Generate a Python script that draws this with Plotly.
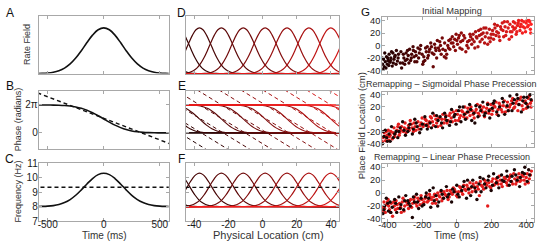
import plotly.graph_objects as go

# ---------------- data ----------------
t_ms = [-3000, -600, -550, -500, -450, -400, -350, -300, -250, -200, -150, -100, -50,
        0, 50, 100, 150, 200, 250, 300, 350, 400, 450, 500, 550, 600, 3000]
rate_field = [0, 0.002, 0.005, 0.013, 0.030, 0.063, 0.120, 0.211, 0.339, 0.500, 0.678, 0.841, 0.958,
              1.0, 0.958, 0.841, 0.678, 0.500, 0.339, 0.211, 0.120, 0.063, 0.030, 0.013, 0.005, 0.002, 0]
phase_rad = [6.283, 6.282, 6.279, 6.273, 6.258, 6.224, 6.159, 6.037, 5.838, 5.536, 5.096, 4.537, 3.864,
             3.142, 2.419, 1.746, 1.187, 0.747, 0.445, 0.246, 0.124, 0.059, 0.025, 0.010, 0.004, 0.001, 0.0]
freq_hz = [8.0, 8.005, 8.012, 8.03, 8.069, 8.145, 8.276, 8.485, 8.78, 9.15, 9.559, 9.934, 10.203,
           10.3, 10.203, 9.934, 9.559, 9.15, 8.78, 8.485, 8.276, 8.145, 8.069, 8.03, 8.012, 8.005, 8.0]
linear_t_ms = [-1000, 1000]
linear_phase_rad = [12.98, -6.42]
mean_freq_t_ms = [-3000, 3000]
mean_freq_hz = [9.33, 9.33]
speed_cm_per_ms = 0.041
cell_peaks_cm = [-75.3, -62.5, -49.7, -36.9, -24.1, -11.3, 1.5, 14.3, 27.1, 39.9, 52.7, 65.5, 78.3]

phase_ticks = [0, 6.2832]
phase_tick_text = ["0", "2π"]
freq_ticks = [7, 8, 9, 10, 11]
time_ticks = [-500, 0, 500]
loc_ticks = [-40, -20, 0, 20, 40]
g_time_ticks = [-400, -200, 0, 200, 400]
g_loc_ticks = [-40, -20, 0, 20, 40]

g1_points = [
    (-428, -30), (-422, -22), (-418, -34), (-412, -26), (-405, -18), (-400, -30), (-396, -24), (-390, -14),
    (-385, -27), (-380, -20), (-372, -33), (-368, -12), (-362, -22), (-355, -16), (-348, -8), (-342, -25), (-336, -14),
    (-318, -36), (-312, -28), (-305, -20), (-300, -30), (-292, -12), (-286, -22), (-280, -16), (-272, -6),
    (-266, -24), (-260, -14), (-252, -2), (-246, -18), (-238, -10), (-230, -26), (-224, -4), (-216, -12), (-208, 0),
    (-196, -30), (-190, -18), (-184, -24), (-176, -10), (-170, -2), (-164, -16), (-156, -6), (-150, 4),
    (-142, -12), (-136, -34), (-128, 2), (-120, -8), (-112, 8), (-106, -4), (-98, 6), (-90, -14), (-84, 12),
    (-72, -18), (-66, -8), (-58, -14), (-52, 0), (-46, 8), (-40, -6), (-32, 4), (-26, 14), (-18, -2),
    (-12, 10), (-4, 18), (4, 2), (10, 12), (18, -4), (26, 20), (34, 8), (40, 16),
    (52, -10), (58, 0), (66, -4), (72, 8), (80, 14), (86, 2), (94, 18), (100, 6), (108, 22), (116, 12),
    (122, -2), (130, 16), (138, 26), (146, 10), (152, 20), (160, 4), (168, 28),
    (178, 2), (184, 12), (192, 6), (198, 18), (206, 24), (212, 10), (220, 28), (226, 16), (234, 32),
    (240, 20), (248, 8), (256, 26), (262, 36), (270, 14), (278, 30), (286, 22), (292, 38),
    (302, 10), (308, 22), (316, 14), (322, 30), (330, 26), (336, 36), (342, 18), (350, 32), (356, 40),
    (364, 24), (370, 34), (378, 20), (386, 38), (392, 28), (400, 36), (408, 30), (416, 40), (424, 26), (428, 34),
    (-430, -20), (-426, -38), (-415, -12), (-408, -36), (-398, -20), (-392, -32), (-382, -24), (-376, -10),
    (-366, -28), (-358, -18), (-350, -30), (-338, -20), (-326, -28), (-322, -10), (-308, -14), (-296, -24),
    (-284, -8), (-276, -28), (-262, -20), (-250, -8), (-242, -26), (-234, -16), (-220, -20), (-212, -6),
    (-200, -14), (-192, -26), (-180, -4), (-168, -20), (-160, -10), (-146, -2), (-132, -14), (-124, -4),
    (-116, -20), (-100, -8), (-94, 0), (-80, -6), (-70, 4), (-62, -20), (-48, -4), (-36, 10), (-22, 4),
    (-8, -8), (0, 8), (14, 16), (22, 6), (30, -6), (46, 12), (62, 6), (76, 18), (90, 10), (104, -4),
    (112, 14), (126, 24), (134, 6), (142, 18), (156, 28), (164, 14), (174, 20), (188, 26), (196, 12),
    (210, 18), (218, 34), (230, 22), (244, 14), (252, 30), (266, 24), (274, 38), (282, 16), (296, 28),
    (306, 34), (318, 22), (326, 38), (338, 28), (346, 22), (354, 36), (366, 30), (374, 40), (382, 30),
    (396, 22), (404, 40), (412, 32), (420, 38), (426, 20),
]
g2_red_points = [
    (-425, -30), (-418, -22), (-410, -35), (-402, -26), (-395, -18), (-388, -28), (-380, -20), (-372, -32),
    (-362, -14), (-355, -24), (-345, -18), (-336, -8), (-328, -22), (-318, -12), (-308, -20), (-298, -6),
    (-288, -16), (-278, -10), (-268, -2), (-258, -14), (-246, -6), (-236, -18), (-224, -4), (-212, -10),
    (-200, 2), (-188, -8), (-176, -2), (-164, -12), (-152, 4), (-140, -4), (-128, 6), (-116, -6), (-104, 2),
    (-92, -10), (-80, 8), (-68, 0), (-56, -6), (-44, 6), (-32, 2), (-20, 12), (-8, -2), (4, 8), (16, 2),
    (28, 14), (40, 4), (52, 10), (64, 18), (76, 6), (88, 14), (100, 2), (112, 16), (124, 10), (136, 22),
    (148, 12), (160, 4), (172, 18), (184, 10), (196, 24), (208, 14), (220, 20), (232, 8), (244, 26),
    (256, 16), (268, 22), (280, 12), (292, 28), (304, 20), (316, 30), (328, 18), (340, 26), (352, 14),
    (364, 32), (376, 22), (388, 28), (400, 18), (412, 34), (424, 26), (430, 30),
    (-430, -36), (-414, -28), (-406, -20), (-392, -34), (-384, -26), (-368, -22), (-358, -28), (-340, -12),
    (-332, -26), (-322, -18), (-302, -14), (-292, -22), (-274, -18), (-262, -8), (-250, -20), (-240, -12),
    (-218, -16), (-206, -6), (-194, -12), (-182, 0), (-170, -8), (-158, -4), (-146, 2), (-134, -10),
    (-120, 0), (-110, -12), (-86, 0), (-74, -6), (-62, 6), (-50, -2), (-38, 10), (-26, -4), (-14, 6),
    (-2, 14), (10, -2), (22, 6), (34, 12), (46, 20), (58, 2), (70, 12), (82, 20), (94, 8), (106, 12),
    (118, 24), (130, 6), (142, 16), (154, 20), (166, 12), (178, 26), (190, 16), (202, 8), (214, 22),
    (226, 28), (238, 16), (250, 22), (262, 12), (274, 30), (286, 20), (298, 14), (310, 24), (322, 34),
    (334, 20), (346, 30), (358, 24), (370, 36), (382, 16), (394, 30), (406, 24), (418, 38), (428, 20),
]
g2_black_points = [
    (-428, -40), (-420, -28), (-412, -18), (-400, -36), (-390, -24), (-376, -12), (-366, -30), (-350, -20),
    (-340, -30), (-326, -14), (-312, -4), (-296, -26), (-282, -20), (-270, -8), (-256, -24), (-242, 0),
    (-228, -12), (-214, -22), (-198, -8), (-184, 4), (-170, -16), (-154, -6), (-138, 10), (-122, -12),
    (-108, -2), (-96, 4), (-82, -14), (-70, 10), (-58, -2), (-42, -10), (-30, 16), (-16, 4), (-4, -8),
    (10, 14), (24, -4), (36, 20), (50, 0), (62, 12), (74, 24), (86, -2), (98, 10), (110, 22), (122, 4),
    (138, 14), (150, 28), (164, 10), (178, 24), (190, 2), (204, 18), (216, 30), (230, 12), (246, 20),
    (262, 34), (276, 8), (290, 22), (306, 38), (318, 14), (332, 32), (346, 40), (358, 24), (372, 12),
    (386, 36), (398, 26), (410, 20), (422, 40),
    (-424, -20), (-404, -30), (-384, -36), (-358, -24), (-334, -20), (-304, -18), (-276, -14), (-250, -16),
    (-234, -6), (-206, -16), (-176, -10), (-146, -14), (-116, 6), (-88, -6), (-64, 4), (-36, -4), (-10, 8),
    (16, 20), (44, 8), (80, 16), (104, -6), (132, 20), (158, 6), (186, 14), (210, 26), (240, 6), (268, 28),
    (296, 14), (324, 26), (352, 34), (380, 30), (404, 36), (428, 32),
]
g3_red_points = [
    (-428, -22), (-420, -14), (-412, -30), (-404, -18), (-396, -10), (-388, -26), (-378, -16), (-370, -36),
    (-360, -20), (-350, -12), (-340, -24), (-330, -16), (-320, -30), (-310, -8), (-300, -20), (-290, -14),
    (-278, -24), (-266, -10), (-254, -16), (-242, -6), (-230, -20), (-218, -12), (-206, -4), (-194, -16),
    (-182, -8), (-170, -14), (-158, -2), (-146, -10), (-134, -6), (-122, -16), (-110, 0), (-98, -6),
    (-86, -12), (-74, 2), (-62, -4), (-50, -10), (-38, 4), (-26, -2), (-14, 6), (-2, -4), (10, 2), (22, 8),
    (34, -2), (46, 6), (58, 12), (70, 0), (82, 8), (94, 14), (106, 4), (118, 10), (130, -4), (142, 12),
    (154, 6), (166, 16), (178, -20), (190, 10), (202, 18), (214, 12), (226, 22), (238, 14), (250, 20),
    (262, 10), (274, 24), (286, 16), (298, 20), (310, 28), (322, 14), (334, 22), (346, 18), (358, 30),
    (370, 20), (382, 26), (394, 14), (406, 30), (418, 22), (430, 34),
    (-430, -28), (-416, -24), (-400, -14), (-392, -20), (-382, -30), (-364, -14), (-354, -26), (-344, -18),
    (-324, -22), (-314, -14), (-304, -28), (-284, -18), (-272, -12), (-260, -22), (-248, -10), (-236, -16),
    (-224, -8), (-212, -18), (-200, -10), (-188, -14), (-176, -4), (-164, -12), (-152, -6), (-140, -16),
    (-128, -2), (-116, -10), (-104, -4), (-92, 2), (-80, -8), (-68, -2), (-56, 4), (-44, -6), (-32, 0),
    (-20, 8), (-8, 2), (4, -6), (16, 10), (28, 2), (40, 12), (52, 4), (64, 8), (76, 16), (88, 2),
    (100, 10), (112, 16), (124, 6), (136, 18), (148, 10), (160, 20), (172, 12), (184, 16), (196, 8),
    (208, 22), (220, 14), (232, 18), (244, 26), (256, 14), (268, 18), (280, 22), (292, 12), (304, 24),
    (316, 18), (328, 30), (340, 14), (352, 24), (364, 18), (376, 28), (388, 20), (400, 24), (412, 16), (424, 28),
]
g3_black_points = [
    (-426, -32), (-416, -20), (-406, -8), (-394, -28), (-384, -14), (-372, -22), (-358, -10), (-346, -30),
    (-334, -6), (-322, -18), (-306, -26), (-294, -4), (-282, -12), (-268, -20), (-256, -38), (-244, -14),
    (-232, -2), (-220, -24), (-206, -8), (-190, -18), (-176, 0), (-162, -8), (-150, -22), (-136, 8),
    (-120, -4), (-104, -14), (-90, 4), (-76, -8), (-60, 10), (-46, -2), (-30, -14), (-16, 2), (0, 12),
    (14, -6), (28, 4), (42, 18), (56, -8), (68, 6), (80, -4), (92, 20), (104, 8), (116, -10), (128, 14),
    (140, 2), (152, 22), (168, 8), (184, 26), (198, 4), (212, 30), (228, 16), (242, 8), (258, 28),
    (272, 18), (288, 34), (302, 12), (318, 26), (332, 36), (348, 20), (362, 10), (378, 32), (392, 40),
    (406, 18), (420, 28),
    (-420, -26), (-398, -16), (-380, -30), (-352, -16), (-326, -24), (-300, -12), (-276, -16), (-250, -6),
    (-226, -14), (-200, -20), (-180, -6), (-156, 4), (-130, -12), (-110, -20), (-84, -2), (-54, -6),
    (-24, 6), (6, -2), (36, 10), (62, 20), (86, 10), (110, 2), (134, 24), (160, 14), (180, 20), (206, 12),
    (234, 24), (262, 20), (290, 26), (312, 18), (340, 28), (366, 24), (390, 30), (414, 36),
]

# ---------------- layout helpers ----------------
W, H = 538, 249
FONT = "Liberation Sans, Arial, Helvetica, sans-serif"


def xd(l, r):
    return [l / W, r / W]


def yd(top, bottom):
    return [1 - bottom / H, 1 - top / H]


def px(x):
    return x / W


def py(y):
    return 1 - y / H


def hy(vals):
    return [("-" + str(-v)) if v < 0 else str(v) for v in vals]


def cell_color(i, n):
    f = i / (n - 1)
    return "rgb(%d,%d,%d)" % (int(15 + f * 235), int(f * 28), int(f * 28))


fig = go.Figure()
BLACK = "#111111"
DASH = "4px,3px"

# A: rate field
fig.add_trace(go.Scatter(x=t_ms, y=rate_field, mode="lines", line=dict(color=BLACK, width=1.6, shape="spline"),
                         xaxis="x", yaxis="y"))
# B: phase
fig.add_trace(go.Scatter(x=linear_t_ms, y=linear_phase_rad, mode="lines",
                         line=dict(color=BLACK, width=1.4, dash=DASH), xaxis="x2", yaxis="y2"))
fig.add_trace(go.Scatter(x=t_ms, y=phase_rad, mode="lines", line=dict(color=BLACK, width=1.6, shape="spline"),
                         xaxis="x2", yaxis="y2"))
# C: frequency
fig.add_trace(go.Scatter(x=mean_freq_t_ms, y=mean_freq_hz, mode="lines",
                         line=dict(color=BLACK, width=1.4, dash=DASH), xaxis="x3", yaxis="y3"))
fig.add_trace(go.Scatter(x=t_ms, y=freq_hz, mode="lines", line=dict(color=BLACK, width=1.6, shape="spline"),
                         xaxis="x3", yaxis="y3"))

n = len(cell_peaks_cm)
for i, p in enumerate(cell_peaks_cm):
    c = cell_color(i, n)
    xs = [p + v * speed_cm_per_ms for v in t_ms]
    xl = [p + v * speed_cm_per_ms for v in linear_t_ms]
    fig.add_trace(go.Scatter(x=xs, y=rate_field, mode="lines", line=dict(color=c, width=1.2, shape="spline"),
                             xaxis="x4", yaxis="y4"))
    fig.add_trace(go.Scatter(x=xl, y=linear_phase_rad, mode="lines", line=dict(color=c, width=1.0, dash=DASH),
                             xaxis="x5", yaxis="y5"))
    fig.add_trace(go.Scatter(x=xs, y=phase_rad, mode="lines", line=dict(color=c, width=1.1, shape="spline"),
                             xaxis="x5", yaxis="y5"))
    fig.add_trace(go.Scatter(x=xs, y=freq_hz, mode="lines", line=dict(color=c, width=1.2, shape="spline"),
                             xaxis="x6", yaxis="y6"))
# F dashed mean line
fig.add_trace(go.Scatter(x=[v * speed_cm_per_ms for v in mean_freq_t_ms], y=mean_freq_hz, mode="lines",
                         line=dict(color=BLACK, width=1.3, dash=DASH), xaxis="x6", yaxis="y6"))

# G scatter panels
MS = 3.4
fig.add_trace(go.Scatter(x=[a for a, b in g1_points], y=[b for a, b in g1_points], mode="markers",
                         marker=dict(size=MS, color=[a for a, b in g1_points], cmin=-430, cmax=430,
                                     colorscale=[[0, "#1e0000"], [0.5, "#8a0a0a"], [1, "#ff2222"]]),
                         xaxis="x7", yaxis="y7"))
RED = "#e51c1c"
DARK = "#1a0404"
for pts, col, ax in [(g2_red_points, RED, "8"), (g2_black_points, DARK, "8"),
                     (g3_red_points, RED, "9"), (g3_black_points, DARK, "9")]:
    fig.add_trace(go.Scatter(x=[a for a, b in pts], y=[b for a, b in pts], mode="markers",
                             marker=dict(size=MS, color=col), xaxis="x" + ax, yaxis="y" + ax))

# axes
cols = {1: (35, 166), 2: (183, 338), 3: (381, 534)}
GX = [-430, 445]
specs = {
    1: dict(col=1, row=(10, 71), xr=[-580, 580], yr=[0, 1.27]),
    2: dict(col=1, row=(89, 150), xr=[-580, 580], yr=[-3.57, 9.49]),
    3: dict(col=1, row=(165, 226), xr=[-580, 580], yr=[7, 11]),
    4: dict(col=2, row=(10, 71), xr=[-45, 45], yr=[0, 1.27]),
    5: dict(col=2, row=(89, 150), xr=[-45, 45], yr=[-3.57, 9.49]),
    6: dict(col=2, row=(165, 226), xr=[-45, 45], yr=[7, 11]),
    7: dict(col=3, row=(12, 71), xr=GX, yr=[-45, 45]),
    8: dict(col=3, row=(90, 148), xr=GX, yr=[-45, 45]),
    9: dict(col=3, row=(166, 227), xr=GX, yr=[-45, 45]),
}
common = dict(showline=True, mirror="ticks", linecolor="#a8a8a8", linewidth=1, ticks="inside", ticklen=3,
              tickcolor="#a8a8a8", showgrid=False, zeroline=False, fixedrange=True,
              tickfont=dict(family=FONT, size=10, color="#1a1a1a"))
gfont = dict(family=FONT, size=9.2, color="#1a1a1a")
layout = {}
for k, s in specs.items():
    sfx = "" if k == 1 else str(k)
    xa = dict(common, domain=xd(*cols[s["col"]]), range=s["xr"], anchor="y" + sfx, ticklabelstandoff=-6)
    ya = dict(common, domain=yd(*s["row"]), range=s["yr"], anchor="x" + sfx,
              ticklabelstandoff=(-1 if k >= 7 else -2))
    if k in (1, 2, 3):
        xa.update(tickvals=time_ticks, ticktext=hy(time_ticks), showticklabels=(k == 3))
    elif k in (4, 5, 6):
        xa.update(tickvals=loc_ticks, ticktext=hy(loc_ticks), showticklabels=(k == 6))
    else:
        xa.update(tickvals=g_time_ticks, ticktext=hy(g_time_ticks), showticklabels=(k == 9), tickfont=gfont)
    if k in (1, 4):
        ya.update(tickvals=[], showticklabels=False)
    elif k == 2:
        ya.update(tickvals=phase_ticks, ticktext=phase_tick_text, showticklabels=True)
    elif k == 5:
        ya.update(tickvals=phase_ticks, showticklabels=False)
    elif k == 3:
        ya.update(tickvals=freq_ticks, showticklabels=True)
    elif k == 6:
        ya.update(tickvals=freq_ticks, showticklabels=False)
    else:
        ya.update(tickvals=g_loc_ticks, ticktext=hy(g_loc_ticks), showticklabels=True, tickfont=gfont)
    layout["xaxis" + sfx] = xa
    layout["yaxis" + sfx] = ya

ann = []


def text(x, y, s, size=10, angle=0, color="#222222"):
    ann.append(dict(x=px(x), y=py(y), xref="paper", yref="paper", text=s, showarrow=False,
                    textangle=angle, font=dict(family=FONT, size=size, color=color),
                    xanchor="center", yanchor="middle"))


for letter, x, y in [("A", 6, 7), ("B", 6, 84), ("C", 6, 161), ("D", 179, 7), ("E", 179, 84),
                     ("F", 179, 161)]:
    text(x, y, letter, size=12, color="#111111")
text(364, 6, "G", size=11.5, color="#111111")

text(23, 40, "Rate Field", size=9, angle=-90, color="#333333")
text(14, 119, "Phase (radians)", size=9, angle=-90, color="#333333")
text(14, 195, "Frequency (Hz)", size=9, angle=-90, color="#333333")
text(101, 241, "Time (ms)", size=10, color="#333333")
text(266, 241, "Physical Location (cm)", size=11, color="#333333")
text(456, 241, "Time (ms)", size=10, color="#333333")
text(361, 126, "Place Field Location (cm)", size=9.5, angle=-90, color="#333333")
text(451, 5, "Initial Mapping", size=9.3, color="#333333")
text(451, 82, "Remapping – Sigmoidal Phase Precession", size=9, color="#333333")
text(451, 158.5, "Remapping – Linear Phase Precession", size=9, color="#333333")

fig.update_layout(width=W, height=H, margin=dict(l=0, r=0, t=0, b=0), showlegend=False,
                  paper_bgcolor="white", plot_bgcolor="white", annotations=ann, **layout)

fig.write_html("out.html", config={"displayModeBar": False, "staticPlot": True})

# remove the default page margin so the figure sits at the window's top-left corner
with open("out.html", "r", encoding="utf-8") as fh:
    html = fh.read()
html = html.replace("<head>", "<head><style>html,body{margin:0;padding:0;overflow:hidden;}</style>", 1)
with open("out.html", "w", encoding="utf-8") as fh:
    fh.write(html)
